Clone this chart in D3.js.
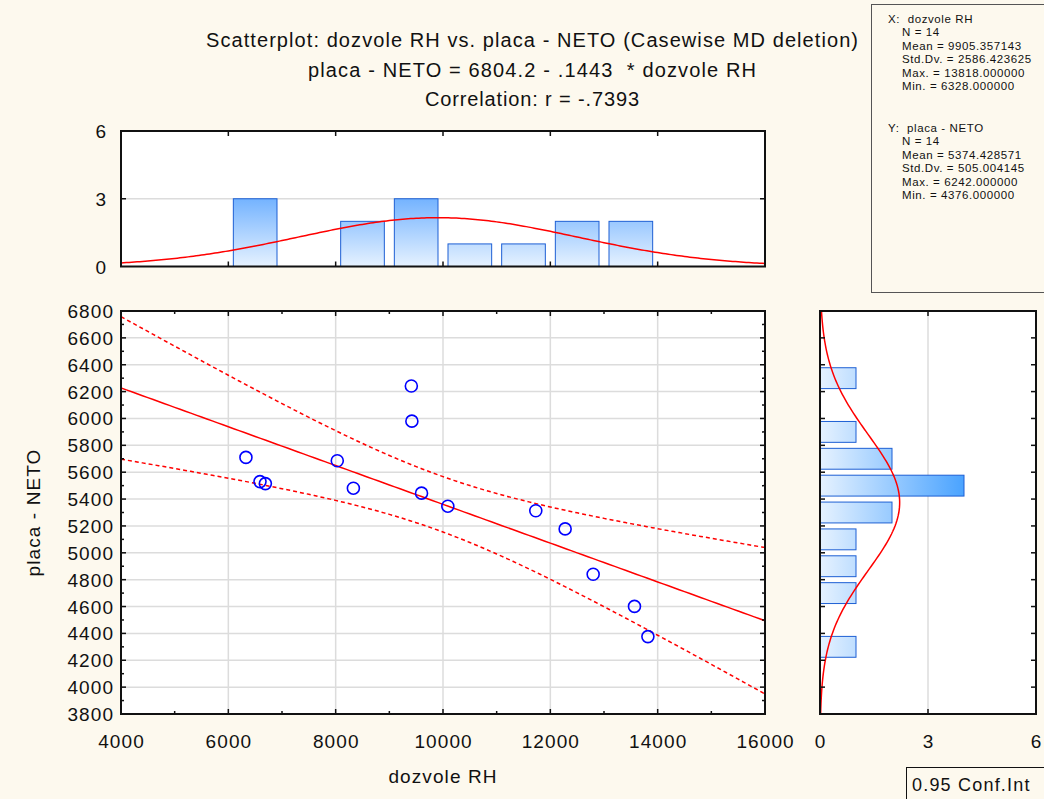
<!DOCTYPE html>
<html>
<head>
<meta charset="utf-8">
<script src="https://cdn.jsdelivr.net/npm/d3@7"></script>
<style>
  html, body { margin: 0; padding: 0; background: #fdf9ee; }
  svg { display: block; font-family: "Liberation Sans", Arial, sans-serif; }
</style>
</head>
<body>
<div id="chart"></div>
<script>
const dozvoleRH = [6328, 6590, 6690, 8030, 8330, 9410, 9420, 9600, 10090, 11729, 12276, 12798, 13568, 13818];
const placaNeto = [5710, 5530, 5515, 5685, 5481, 6242, 5980, 5444, 5347, 5313, 5178, 4840, 4601, 4376];

const titleLines = [
    "Scatterplot: dozvole RH vs. placa - NETO (Casewise MD deletion)",
    "placa - NETO = 6804.2 - .1443  * dozvole RH",
    "Correlation: r = -.7393"
];
const titleWidths = [652, 448, 214];
const statsX = ["X:  dozvole RH", "N = 14", "Mean = 9905.357143", "Std.Dv. = 2586.423625", "Max. = 13818.000000", "Min. = 6328.000000"];
const statsY = ["Y:  placa - NETO", "N = 14", "Mean = 5374.428571", "Std.Dv. = 505.004145", "Max. = 6242.000000", "Min. = 4376.000000"];

const xTicks = [4000, 6000, 8000, 10000, 12000, 14000, 16000];
const yTicks = d3.range(3800, 6801, 200);
const countTicks = [0, 3, 6];
const xBinWidth = 1000, yBinWidth = 200;

const W = 1044, H = 799;
const svg = d3.select("#chart").append("svg").attr("width", W).attr("height", H);
svg.append("rect").attr("width", W).attr("height", H).attr("fill", "#fdf9ee");

// panel geometry
const main = { l: 121, r: 765, t: 311, b: 714 };
const topPanel = { t: 131, b: 266.5 };
const side = { l: 820, r: 1036 };

const x = d3.scaleLinear().domain([4000, 16000]).range([main.l, main.r]);
const y = d3.scaleLinear().domain([3800, 6800]).range([main.b, main.t]);
const yTop = d3.scaleLinear().domain([0, 6]).range([topPanel.b, topPanel.t]);
const xSide = d3.scaleLinear().domain([0, 6]).range([side.l, side.r]);

const n = dozvoleRH.length;
const mx = d3.mean(dozvoleRH), my = d3.mean(placaNeto);
const sdx = d3.deviation(dozvoleRH), sdy = d3.deviation(placaNeto);

// regression + 95% confidence band
const sxx = d3.sum(dozvoleRH, v => (v - mx) ** 2);
const sxy = d3.sum(dozvoleRH, (v, i) => (v - mx) * (placaNeto[i] - my));
const slope = sxy / sxx, intercept = my - slope * mx;
const sse = d3.sum(dozvoleRH, (v, i) => (placaNeto[i] - intercept - slope * v) ** 2);
const se = Math.sqrt(sse / (n - 2));
const tCrit = 2.1788; // t(0.975, 12)
const xs = d3.range(4000, 16001, 100);
const band = sign => xs.map(v => [v, intercept + slope * v + sign * tCrit * se * Math.sqrt(1 / n + (v - mx) ** 2 / sxx)]);

const normal = (v, m, s) => Math.exp(-0.5 * ((v - m) / s) ** 2) / (s * Math.sqrt(2 * Math.PI));

// gradients
const defs = svg.append("defs");
const gTop = defs.append("linearGradient").attr("id", "gradTop").attr("gradientUnits", "userSpaceOnUse")
    .attr("x1", 0).attr("x2", 0).attr("y1", yTop(0)).attr("y2", yTop(3));
gTop.append("stop").attr("offset", 0).attr("stop-color", "#e6f2ff");
gTop.append("stop").attr("offset", 1).attr("stop-color", "#74b3ff");
const gSide = defs.append("linearGradient").attr("id", "gradSide").attr("gradientUnits", "userSpaceOnUse")
    .attr("y1", 0).attr("y2", 0).attr("x1", xSide(0)).attr("x2", xSide(4));
gSide.append("stop").attr("offset", 0).attr("stop-color", "#e6f2ff");
gSide.append("stop").attr("offset", 1).attr("stop-color", "#4aa3ff");
defs.append("clipPath").attr("id", "clipMain").append("rect")
    .attr("x", main.l).attr("y", main.t).attr("width", main.r - main.l).attr("height", main.b - main.t);

const frameColor = "#111";
const gridColor = "#dcdcdc";
const labelSpacing = 1.1;

// ---------- titles ----------
svg.selectAll(".title").data(titleLines).enter().append("text")
    .attr("x", 532).attr("y", (d, i) => 47 + i * 29.5)
    .attr("text-anchor", "middle").attr("font-size", 20).attr("fill", "#111")
    .attr("textLength", (d, i) => titleWidths[i]).attr("lengthAdjust", "spacing")
    .style("white-space", "pre").text(d => d);

// ---------- stats box ----------
svg.append("rect").attr("x", 871.5).attr("y", 4.5).attr("width", 200).attr("height", 288)
    .attr("fill", "#fdf9ee").attr("stroke", "#555").attr("stroke-width", 1);
function statBlock(lines, y0) {
    svg.selectAll(null).data(lines).enter().append("text")
        .attr("x", (d, i) => i === 0 ? 888 : 902)
        .attr("y", (d, i) => y0 + i * 13.4)
        .attr("font-size", 11.5).attr("letter-spacing", 0.6).attr("fill", "#111")
        .style("white-space", "pre").text(d => d);
}
statBlock(statsX, 23);
statBlock(statsY, 132);

// ---------- main scatter ----------
const gm = svg.append("g");
gm.append("rect").attr("x", main.l).attr("y", main.t).attr("width", main.r - main.l).attr("height", main.b - main.t).attr("fill", "#fff");
gm.selectAll(".vg").data(xTicks.slice(1, -1)).enter().append("line")
    .attr("x1", d => x(d)).attr("x2", d => x(d)).attr("y1", main.t).attr("y2", main.b)
    .attr("stroke", gridColor).attr("stroke-width", 1.5);
gm.selectAll(".hg").data(yTicks.slice(1, -1)).enter().append("line")
    .attr("y1", d => y(d)).attr("y2", d => y(d)).attr("x1", main.l).attr("x2", main.r)
    .attr("stroke", gridColor).attr("stroke-width", 1.5);

const line = d3.line().x(d => x(d[0])).y(d => y(d[1]));
const gl = gm.append("g").attr("clip-path", "url(#clipMain)");
gl.append("path").datum(xs.map(v => [v, intercept + slope * v])).attr("d", line)
    .attr("fill", "none").attr("stroke", "#ff0000").attr("stroke-width", 1.5);
[1, -1].forEach(s => gl.append("path").datum(band(s)).attr("d", line)
    .attr("fill", "none").attr("stroke", "#ff0000").attr("stroke-width", 1.5).attr("stroke-dasharray", "4,3"));

gm.selectAll(".pt").data(dozvoleRH).enter().append("circle")
    .attr("cx", d => x(d)).attr("cy", (d, i) => y(placaNeto[i])).attr("r", 6)
    .attr("fill", "none").attr("stroke", "#0000ff").attr("stroke-width", 1.6);

// inward ticks
const yMinor = d3.range(3800, 6801, 100);
const xMinor = d3.range(4000, 16001, 1000);
gm.selectAll(".tl").data(yMinor).enter().append("line")
    .attr("x1", main.l).attr("x2", d => main.l + (d % 200 === 0 ? 5 : 3))
    .attr("y1", d => y(d)).attr("y2", d => y(d)).attr("stroke", frameColor).attr("stroke-width", 1.5);
gm.selectAll(".tr").data(yMinor).enter().append("line")
    .attr("x1", main.r).attr("x2", d => main.r - (d % 200 === 0 ? 5 : 3))
    .attr("y1", d => y(d)).attr("y2", d => y(d)).attr("stroke", frameColor).attr("stroke-width", 1.5);
gm.selectAll(".tt").data(xMinor).enter().append("line")
    .attr("y1", main.t).attr("y2", d => main.t + (d % 2000 === 0 ? 5 : 3))
    .attr("x1", d => x(d)).attr("x2", d => x(d)).attr("stroke", frameColor).attr("stroke-width", 1.5);
gm.selectAll(".tb").data(xMinor).enter().append("line")
    .attr("y1", main.b).attr("y2", d => main.b - (d % 2000 === 0 ? 5 : 3))
    .attr("x1", d => x(d)).attr("x2", d => x(d)).attr("stroke", frameColor).attr("stroke-width", 1.5);
gm.append("rect").attr("x", main.l).attr("y", main.t).attr("width", main.r - main.l).attr("height", main.b - main.t)
    .attr("fill", "none").attr("stroke", frameColor).attr("stroke-width", 2);

gm.selectAll(".xl").data(xTicks).enter().append("text")
    .attr("x", d => x(d) + labelSpacing / 2).attr("y", 748).attr("text-anchor", "middle").attr("font-size", 19)
    .attr("letter-spacing", labelSpacing).attr("fill", "#111")
    .text(d => d);
gm.selectAll(".yl").data(yTicks).enter().append("text")
    .attr("x", 113 + labelSpacing).attr("y", d => y(d) + 7).attr("text-anchor", "end").attr("font-size", 19)
    .attr("letter-spacing", labelSpacing).attr("fill", "#111")
    .text(d => d);
svg.append("text").attr("x", 443).attr("y", 783).attr("text-anchor", "middle").attr("font-size", 19)
    .attr("letter-spacing", labelSpacing).attr("fill", "#111").text("dozvole RH");
svg.append("text").attr("transform", `translate(40,${(main.t + main.b) / 2}) rotate(-90)`)
    .attr("text-anchor", "middle").attr("font-size", 19).attr("letter-spacing", labelSpacing)
    .attr("fill", "#111").text("placa - NETO");

// ---------- top histogram (dozvole RH) ----------
const gt = svg.append("g");
gt.append("rect").attr("x", main.l).attr("y", topPanel.t).attr("width", main.r - main.l).attr("height", topPanel.b - topPanel.t).attr("fill", "#fff");
gt.append("line").attr("x1", main.l).attr("x2", main.r).attr("y1", yTop(3)).attr("y2", yTop(3))
    .attr("stroke", gridColor).attr("stroke-width", 1.5);
const binsX = d3.bin().domain([4000, 16000]).thresholds(d3.range(4000, 16000, xBinWidth))(dozvoleRH);
gt.selectAll(".bx").data(binsX.filter(b => b.length)).enter().append("rect")
    .attr("x", d => x(d.x0) + 5).attr("width", d => x(d.x1) - x(d.x0) - 10)
    .attr("y", d => yTop(d.length)).attr("height", d => yTop(0) - yTop(d.length))
    .attr("fill", "url(#gradTop)").attr("stroke", "#1d5fd4").attr("stroke-width", 1);
const curveX = d3.range(4000, 16001, 50).map(v => [v, n * xBinWidth * normal(v, mx, sdx)]);
gt.append("path").datum(curveX).attr("d", d3.line().x(d => x(d[0])).y(d => yTop(d[1])))
    .attr("fill", "none").attr("stroke", "#ff0000").attr("stroke-width", 1.5);
gt.selectAll(".ttk").data(xTicks.slice(1, -1)).enter().append("line")
    .attr("x1", d => x(d)).attr("x2", d => x(d)).attr("y1", topPanel.t).attr("y2", topPanel.t + 5)
    .attr("stroke", frameColor).attr("stroke-width", 1.5);
gt.selectAll(".tbk").data(xTicks.slice(1, -1)).enter().append("line")
    .attr("x1", d => x(d)).attr("x2", d => x(d)).attr("y1", topPanel.b).attr("y2", topPanel.b - 5)
    .attr("stroke", frameColor).attr("stroke-width", 1.5);
[main.l, main.r].forEach((px, k) => gt.append("line")
    .attr("x1", px).attr("x2", px + (k ? -5 : 5)).attr("y1", yTop(3)).attr("y2", yTop(3))
    .attr("stroke", frameColor).attr("stroke-width", 1.5));
gt.append("rect").attr("x", main.l).attr("y", topPanel.t).attr("width", main.r - main.l).attr("height", topPanel.b - topPanel.t)
    .attr("fill", "none").attr("stroke", frameColor).attr("stroke-width", 2);
gt.selectAll(".cl").data(countTicks).enter().append("text")
    .attr("x", 106).attr("y", d => yTop(d) + 7).attr("text-anchor", "end").attr("font-size", 19).attr("fill", "#111")
    .text(d => d);

// ---------- side histogram (placa - NETO) ----------
const gs = svg.append("g");
gs.append("rect").attr("x", side.l).attr("y", main.t).attr("width", side.r - side.l).attr("height", main.b - main.t).attr("fill", "#fff");
gs.append("line").attr("x1", xSide(3)).attr("x2", xSide(3)).attr("y1", main.t).attr("y2", main.b)
    .attr("stroke", gridColor).attr("stroke-width", 1.5);
const binsY = d3.bin().domain([3800, 6800]).thresholds(d3.range(3800, 6800, yBinWidth))(placaNeto);
gs.selectAll(".by").data(binsY.filter(b => b.length)).enter().append("rect")
    .attr("x", xSide(0)).attr("width", d => xSide(d.length) - xSide(0))
    .attr("y", d => y(d.x1) + 3).attr("height", d => y(d.x0) - y(d.x1) - 6)
    .attr("fill", "url(#gradSide)").attr("stroke", "#1d5fd4").attr("stroke-width", 1);
const curveY = d3.range(3800, 6801, 20).map(v => [v, n * yBinWidth * normal(v, my, sdy)]);
gs.append("path").datum(curveY).attr("d", d3.line().x(d => xSide(d[1])).y(d => y(d[0])))
    .attr("fill", "none").attr("stroke", "#ff0000").attr("stroke-width", 1.5);
gs.selectAll(".sl").data(yTicks.slice(1, -1)).enter().append("line")
    .attr("x1", side.l).attr("x2", side.l + 5).attr("y1", d => y(d)).attr("y2", d => y(d))
    .attr("stroke", frameColor).attr("stroke-width", 1.5);
gs.selectAll(".sr").data(yTicks.slice(1, -1)).enter().append("line")
    .attr("x1", side.r).attr("x2", side.r - 5).attr("y1", d => y(d)).attr("y2", d => y(d))
    .attr("stroke", frameColor).attr("stroke-width", 1.5);
[main.t, main.b].forEach((py, k) => gs.append("line")
    .attr("x1", xSide(3)).attr("x2", xSide(3)).attr("y1", py).attr("y2", py + (k ? -5 : 5))
    .attr("stroke", frameColor).attr("stroke-width", 1.5));
gs.append("rect").attr("x", side.l).attr("y", main.t).attr("width", side.r - side.l).attr("height", main.b - main.t)
    .attr("fill", "none").attr("stroke", frameColor).attr("stroke-width", 2);
gs.selectAll(".sxl").data(countTicks).enter().append("text")
    .attr("x", d => xSide(d)).attr("y", 748).attr("text-anchor", "middle").attr("font-size", 19).attr("fill", "#111")
    .text(d => d);

// ---------- confidence legend ----------
svg.append("rect").attr("x", 906.5).attr("y", 767.5).attr("width", 160).attr("height", 40)
    .attr("fill", "#fdf9ee").attr("stroke", "#111").attr("stroke-width", 1);
svg.append("text").attr("x", 912).attr("y", 791).attr("font-size", 18).attr("letter-spacing", 1.2)
    .attr("fill", "#111").text("0.95 Conf.Int");
</script>
</body>
</html>
